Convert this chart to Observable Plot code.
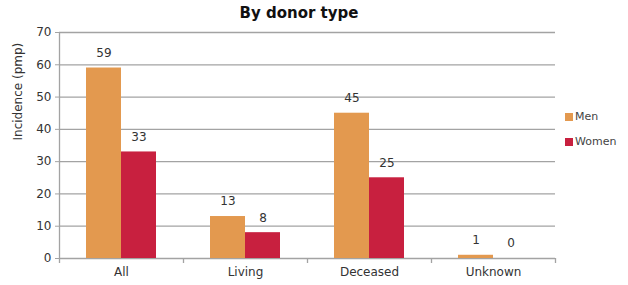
<!DOCTYPE html>
<html><head><meta charset="utf-8">
<script src="https://cdn.jsdelivr.net/npm/d3@7"></script>
<script src="https://cdn.jsdelivr.net/npm/@observablehq/plot@0.6"></script>
<style>
body{margin:0;background:#fff;}
#chart{position:relative;width:628px;height:285px;font-family:"DejaVu Sans",sans-serif;overflow:hidden;}
#title{position:absolute;left:0;top:4px;width:598px;text-align:center;font-weight:bold;font-size:15px;color:#111;line-height:18px;}
#plot{position:absolute;left:0;top:24px;}
.lg{position:absolute;left:565px;font-size:11px;color:#444;display:flex;align-items:center;line-height:12px;}
.sw{width:8px;height:8px;margin-right:2px;display:inline-block;}
</style>
</head><body>
<div id="chart">
  <div id="title">By donor type</div>
  <div id="plot"></div>
  <div id="legend"></div>
</div>
<script>
const categories = ["All", "Living", "Deceased", "Unknown"];
const seriesNames = ["Men", "Women"];
const men = [59, 13, 45, 1];
const women = [33, 8, 25, 0];
const yTicks = [0, 10, 20, 30, 40, 50, 60, 70];
const colors = ["#E3994F", "#C8203F"];
const yLabel = "Incidence (pmp)";

const rows = categories.flatMap((c, i) => [
  {category: c, series: seriesNames[0], value: men[i]},
  {category: c, series: seriesNames[1], value: women[i]}
]);
const menRows = rows.filter(d => d.series === seriesNames[0]);
const womenRows = rows.filter(d => d.series === seriesNames[1]);

const width = 628, height = 261, marginLeft = 59, marginRight = 73, marginTop = 8, marginBottom = 27;
const half = (width - marginLeft - marginRight) / categories.length / 2;
const barW = 35;
const gridColor = "#a3a3a3";

const chart = Plot.plot({
  width, height, marginLeft, marginRight, marginTop, marginBottom,
  style: {fontFamily: "DejaVu Sans, sans-serif", fontSize: "12px", color: "#333", background: "#fff"},
  x: {domain: categories, padding: 0, axis: null},
  y: {domain: [0, 70], axis: null},
  color: {domain: seriesNames, range: colors},
  marks: [
    Plot.ruleY(yTicks, {stroke: gridColor, strokeWidth: 1.3}),
    Plot.barY(menRows, {x: "category", y: "value", fill: "series", insetLeft: half - barW, insetRight: half}),
    Plot.barY(womenRows, {x: "category", y: "value", fill: "series", insetLeft: half, insetRight: half - barW}),
    Plot.text(menRows, {x: "category", y: "value", text: d => String(d.value), dx: -barW / 2, dy: -15, fill: "#333"}),
    Plot.text(womenRows, {x: "category", y: "value", text: d => String(d.value), dx: barW / 2, dy: -15, fill: "#333"}),
    Plot.ruleX([categories[0]], {y1: 0, y2: 70, dx: -half, stroke: gridColor, strokeWidth: 1.3}),
    Plot.ruleX(categories, {y1: 0, y2: 0, insetBottom: -5, dx: -half, stroke: gridColor, strokeWidth: 1.3}),
    Plot.ruleX([categories[categories.length - 1]], {y1: 0, y2: 0, insetBottom: -5, dx: half, stroke: gridColor, strokeWidth: 1.3}),
    Plot.axisY(yTicks, {tickSize: 4, tickPadding: 4, stroke: gridColor, fill: "#333", label: null}),
    Plot.text([yLabel], {frameAnchor: "left", rotate: -90, dx: -41, dy: -5, fill: "#333", fontSize: 12}),
    Plot.axisX({tickSize: 0, tickPadding: 9, label: null, fill: "#333"})
  ]
});
document.getElementById("plot").appendChild(chart);

const legend = document.getElementById("legend");
seriesNames.forEach((s, i) => {
  const div = document.createElement("div");
  div.className = "lg";
  div.style.top = (111 + i * 25) + "px";
  const sw = document.createElement("span");
  sw.className = "sw";
  sw.style.background = colors[i];
  div.appendChild(sw);
  div.appendChild(document.createTextNode(s));
  legend.appendChild(div);
});
</script>
</body></html>
